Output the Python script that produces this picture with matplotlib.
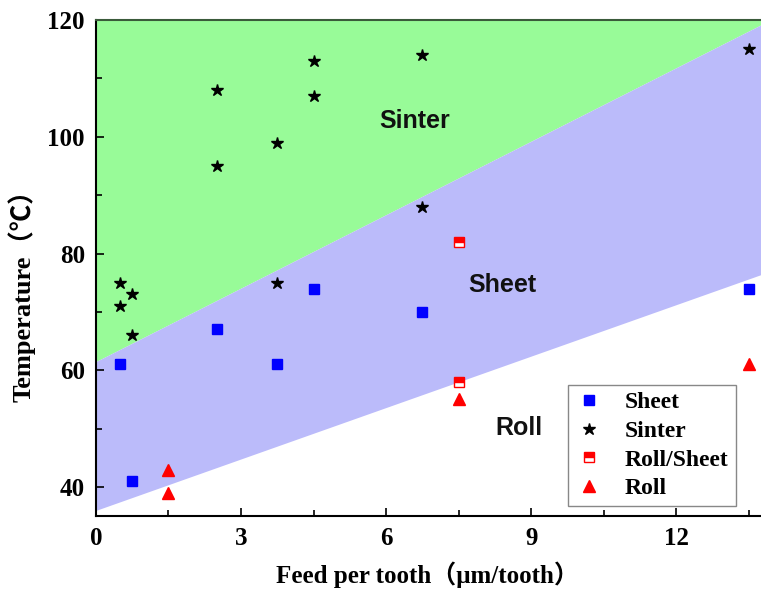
import numpy as np
import matplotlib
matplotlib.use('Agg')
import matplotlib.pyplot as plt
from matplotlib.ticker import MultipleLocator

# data
sheet_x = [0.5, 0.75, 2.5, 3.75, 4.5, 6.75, 13.5]
sheet_y = [61, 41, 67, 61, 74, 70, 74]
sinter_x = [0.5, 0.5, 0.75, 0.75, 2.5, 2.5, 3.75, 3.75, 4.5, 4.5, 6.75, 6.75, 13.5]
sinter_y = [75, 71, 73, 66, 108, 95, 99, 75, 113, 107, 114, 88, 115]
rollsheet_x = [7.5, 7.5]
rollsheet_y = [82, 58]
roll_x = [1.5, 1.5, 7.5, 13.5]
roll_y = [43, 39, 55, 61]

# region boundaries (x ends, y ends)
bound_x = [0, 13.75]
upper_y = [61.5, 119.2]
lower_y = [36.0, 76.4]

serif = ['Liberation Serif', 'Noto Sans CJK SC']

fig = plt.figure(figsize=(7.61, 5.92), dpi=100)
ax = fig.add_axes([0.126, 0.128, 0.874, 0.838])

xs = np.array(bound_x)
ax.fill_between(xs, upper_y, 120, color='#98fb98', lw=0, zorder=0)
ax.fill_between(xs, lower_y, upper_y, color='#bbbbfa', lw=0, zorder=0)

ax.plot(sheet_x, sheet_y, 's', color='#0000ff', ms=7, ls='none', label='Sheet')
ax.plot(sinter_x, sinter_y, '*', color='black', ms=9, ls='none', label='Sinter')
ax.plot(rollsheet_x, rollsheet_y, 's', ms=7, ls='none', fillstyle='top',
        markerfacecolor='red', markerfacecoloralt='white', markeredgecolor='red',
        markeredgewidth=1, label='Roll/Sheet')
ax.plot(roll_x, roll_y, '^', color='red', ms=9, ls='none', label='Roll')

ax.text(6.6, 102.8, 'Sinter', fontsize=18, fontweight='bold', family='Liberation Sans',
        ha='center', va='center', color='#111111')
ax.text(8.4, 74.7, 'Sheet', fontsize=18, fontweight='bold', family='Liberation Sans',
        ha='center', va='center', color='#111111')
ax.text(8.75, 50.2, 'Roll', fontsize=18, fontweight='bold', family='Liberation Sans',
        ha='center', va='center', color='#111111')

ax.set_xlim(0, 13.75)
ax.set_ylim(35, 120)
ax.xaxis.set_major_locator(MultipleLocator(3))
ax.xaxis.set_minor_locator(MultipleLocator(1.5))
ax.yaxis.set_major_locator(MultipleLocator(20))
ax.yaxis.set_minor_locator(MultipleLocator(10))
ax.tick_params(which='both', direction='in', top=False, right=False, width=1.2)
ax.tick_params(which='major', length=6, pad=8)
ax.tick_params(which='minor', length=4)
for lab in ax.get_xticklabels() + ax.get_yticklabels():
    lab.set_family('Liberation Serif')
    lab.set_fontweight('bold')
    lab.set_fontsize(18)
ax.spines['right'].set_visible(False)
ax.spines['top'].set_color('#3a5a3a')
for s in ['left', 'bottom', 'top']:
    ax.spines[s].set_linewidth(1.5)

ax.set_xlabel('Feed per tooth（μm/tooth）', family=serif, fontweight='bold', fontsize=18, va='center')
ax.xaxis.set_label_coords(0.499, -0.118)
ax.set_ylabel('Temperature（℃）', family=serif, fontweight='bold', fontsize=19, va='center')
ax.yaxis.set_label_coords(-0.111, 0.458)

leg = ax.legend(loc='lower right', bbox_to_anchor=(0.962, 0.02), borderaxespad=0,
                fancybox=False, edgecolor='#888888', framealpha=1,
                handlelength=1.2, handletextpad=0.9, borderpad=0.3, labelspacing=0.3,
                prop={'family': 'Liberation Serif', 'weight': 'bold', 'size': 17})

plt.savefig('out.png', dpi=100)
